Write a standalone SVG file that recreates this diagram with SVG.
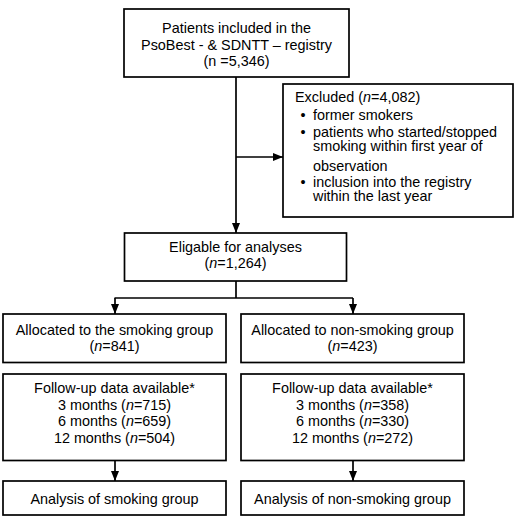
<svg xmlns="http://www.w3.org/2000/svg" width="521" height="525" viewBox="0 0 521 525">
<defs>
<style>
.box{fill:#fff;stroke:#000;stroke-width:1.7}
.ln{fill:none;stroke:#000;stroke-width:1.7}
text{font-family:"Liberation Sans",Arial,sans-serif;font-size:14.4px;fill:#000}
.c{text-anchor:middle}
.i{font-style:italic}
</style>
<marker id="ah" markerUnits="userSpaceOnUse" markerWidth="10" markerHeight="10" viewBox="0 0 10 10" refX="10" refY="5" orient="auto">
<path d="M0,1 L10,5 L0,9 Z" fill="#000"/>
</marker>
</defs>
<rect width="521" height="525" fill="#fff"/>
<g id="connectors">
<line class="ln" x1="236" y1="77" x2="236" y2="233" marker-end="url(#ah)"/>
<line class="ln" x1="236" y1="157" x2="283" y2="157" marker-end="url(#ah)"/>
<line class="ln" x1="236" y1="281" x2="236" y2="298"/>
<line class="ln" x1="114.5" y1="298" x2="353" y2="298"/>
<line class="ln" x1="115" y1="298" x2="115" y2="314" marker-end="url(#ah)"/>
<line class="ln" x1="353" y1="298" x2="353" y2="314" marker-end="url(#ah)"/>
<line class="ln" x1="115" y1="460.5" x2="115" y2="481" marker-end="url(#ah)"/>
<line class="ln" x1="353" y1="460.5" x2="353" y2="481" marker-end="url(#ah)"/>
</g>
<g id="patients">
<rect class="box" x="124" y="9" width="225" height="68"/>
<text class="c" x="236.5" y="33">Patients included in the</text>
<text class="c" x="236.5" y="49.5">PsoBest - &amp; SDNTT – registry</text>
<text class="c" x="236.5" y="66">(n =5,346)</text>
</g>
<g id="excluded">
<rect class="box" x="283" y="84" width="230" height="133"/>
<text x="295" y="102.3">Excluded (<tspan class="i">n</tspan>=4,082)</text>
<text x="300.5" y="119.7">•</text>
<text x="313" y="119.7">former smokers</text>
<text x="300.5" y="136.7">•</text>
<text x="313" y="136.7">patients who started/stopped</text>
<text x="313" y="150.7">smoking within first year of</text>
<text x="313" y="171.3">observation</text>
<text x="300.5" y="187.3">•</text>
<text x="313" y="187.3">inclusion into the registry</text>
<text x="313" y="201.3">within the last year</text>
</g>
<g id="eligible">
<rect class="box" x="124.5" y="233" width="222" height="48"/>
<text class="c" x="235.5" y="251.7">Eligable for analyses</text>
<text class="c" x="235.5" y="267.7">(<tspan class="i">n</tspan>=1,264)</text>
</g>
<g id="alloc-smoking">
<rect class="box" x="3" y="314" width="223" height="48.5"/>
<text class="c" x="114.5" y="335">Allocated to the smoking group</text>
<text class="c" x="114.5" y="351">(<tspan class="i">n</tspan>=841)</text>
</g>
<g id="alloc-nonsmoking">
<rect class="box" x="241" y="314" width="223" height="48.5"/>
<text class="c" x="352.5" y="335">Allocated to non-smoking group</text>
<text class="c" x="352.5" y="351">(<tspan class="i">n</tspan>=423)</text>
</g>
<g id="followup-smoking">
<rect class="box" x="3" y="374" width="223" height="86.5"/>
<text class="c" x="114.5" y="393.3">Follow-up data available*</text>
<text class="c" x="114.5" y="410">3 months (<tspan class="i">n</tspan>=715)</text>
<text class="c" x="114.5" y="426">6 months (<tspan class="i">n</tspan>=659)</text>
<text class="c" x="114.5" y="443">12 months (<tspan class="i">n</tspan>=504)</text>
</g>
<g id="followup-nonsmoking">
<rect class="box" x="241" y="374" width="223" height="86.5"/>
<text class="c" x="352.5" y="393.3">Follow-up data available*</text>
<text class="c" x="352.5" y="410">3 months (<tspan class="i">n</tspan>=358)</text>
<text class="c" x="352.5" y="426">6 months (<tspan class="i">n</tspan>=330)</text>
<text class="c" x="352.5" y="443">12 months (<tspan class="i">n</tspan>=272)</text>
</g>
<g id="analysis-smoking">
<rect class="box" x="3" y="481" width="223" height="34"/>
<text class="c" x="114.5" y="504">Analysis of smoking group</text>
</g>
<g id="analysis-nonsmoking">
<rect class="box" x="241" y="481" width="223" height="34"/>
<text class="c" x="352.5" y="504">Analysis of non-smoking group</text>
</g>
</svg>
